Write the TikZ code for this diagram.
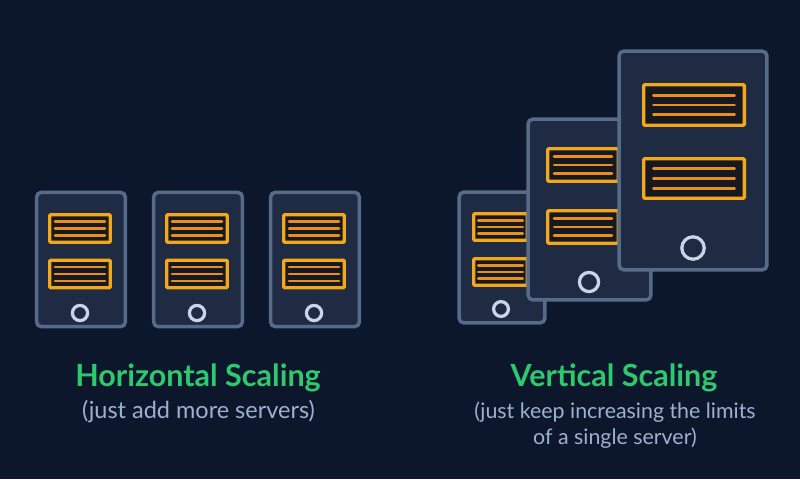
\documentclass[tikz,border=0pt]{standalone}
\usepackage{fontspec}
\setmainfont{Lato}
\usetikzlibrary{positioning}
\definecolor{night}{RGB}{12,23,44}
\definecolor{panel}{RGB}{30,43,66}
\definecolor{steel}{RGB}{86,107,138}
\definecolor{amber}{RGB}{243,168,28}
\definecolor{rust}{RGB}{232,143,28}
\definecolor{well}{RGB}{22,25,34}
\definecolor{frost}{RGB}{201,214,232}
\definecolor{mint}{RGB}{46,200,110}
\definecolor{haze}{RGB}{158,176,207}
\tikzset{
  title/.style={font=\fontsize{21.7}{24}\selectfont\bfseries,text=mint,align=center,inner sep=0pt,anchor=base},
  note/.style={font=\fontsize{#1}{18.4}\selectfont,text=haze,align=center,inner sep=0pt,anchor=base},
  note/.default=15.2,
  % pictograms
  pics/chassis/.style 2 args={code={
    \draw[steel,fill=panel,line width=2.5pt,rounded corners=3.5pt]
      (-#1/2+1.8,-#2/2+1.8) rectangle (#1/2-1.8,#2/2-1.8);
  }},
  pics/slot/.style 2 args={code={
    \draw[amber,fill=well,line width=2.4pt,rounded corners=0.8pt]
      (-#1/2+1.7,-#2/2+1.7) rectangle (#1/2-1.7,#2/2-1.7);
    \foreach \k in {-1,0,1}
      \draw[rust,line width=2pt,line cap=round]
        (-0.39*#1,\k*0.225*#2) -- (0.39*#1,\k*0.225*#2);
  }},
  pics/knob/.style={code={
    \draw[frost,line width=2.3pt] (0,0) circle (#1);
  }},
}
\begin{document}
\begin{tikzpicture}[x=0.025cm,y=-0.025cm]
  \fill[night] (0,0) rectangle (800,479);
  % three servers side by side
  \foreach \x in {81,198,315} {
    \pic at (\x,259.5) {chassis={92.5}{138}};
    \pic at (\x-1,228.5) {slot={64}{31}};
    \pic at (\x-1,274) {slot={64}{31}};
    \pic at (\x-1,313) {knob=7.6};
  }
  % small server
  \pic at (502,257.5) {chassis={89.5}{134.5}};
  \pic at (500.5,227) {slot={57}{30}};
  \pic at (500.5,272) {slot={57}{30}};
  \pic at (501,309) {knob=7.4};
  % medium server
  \pic at (589.5,209.5) {chassis={126.5}{184.5}};
  \pic at (583,165) {slot={74}{36}};
  \pic at (583,227) {slot={74}{36}};
  \pic at (589,282) {knob=9.6};
  % large server
  \pic at (693,160.5) {chassis={151.5}{222.5}};
  \pic at (694,105) {slot={104}{44}};
  \pic at (694,178.5) {slot={104}{43}};
  \pic at (693,248) {knob=11.2};
  % captions
  \node[title] (hz) at (198,386) {Horizontal Scaling};
  \node[note=16.7] (hznote) at (198.5,418) {(just add more servers)};
  \node[title] (vt) at (614,386) {Vertical Scaling};
  \node[note] (vtnote) at (615,444) {(just keep increasing the limits\\of a single server)};
\end{tikzpicture}
\end{document}
